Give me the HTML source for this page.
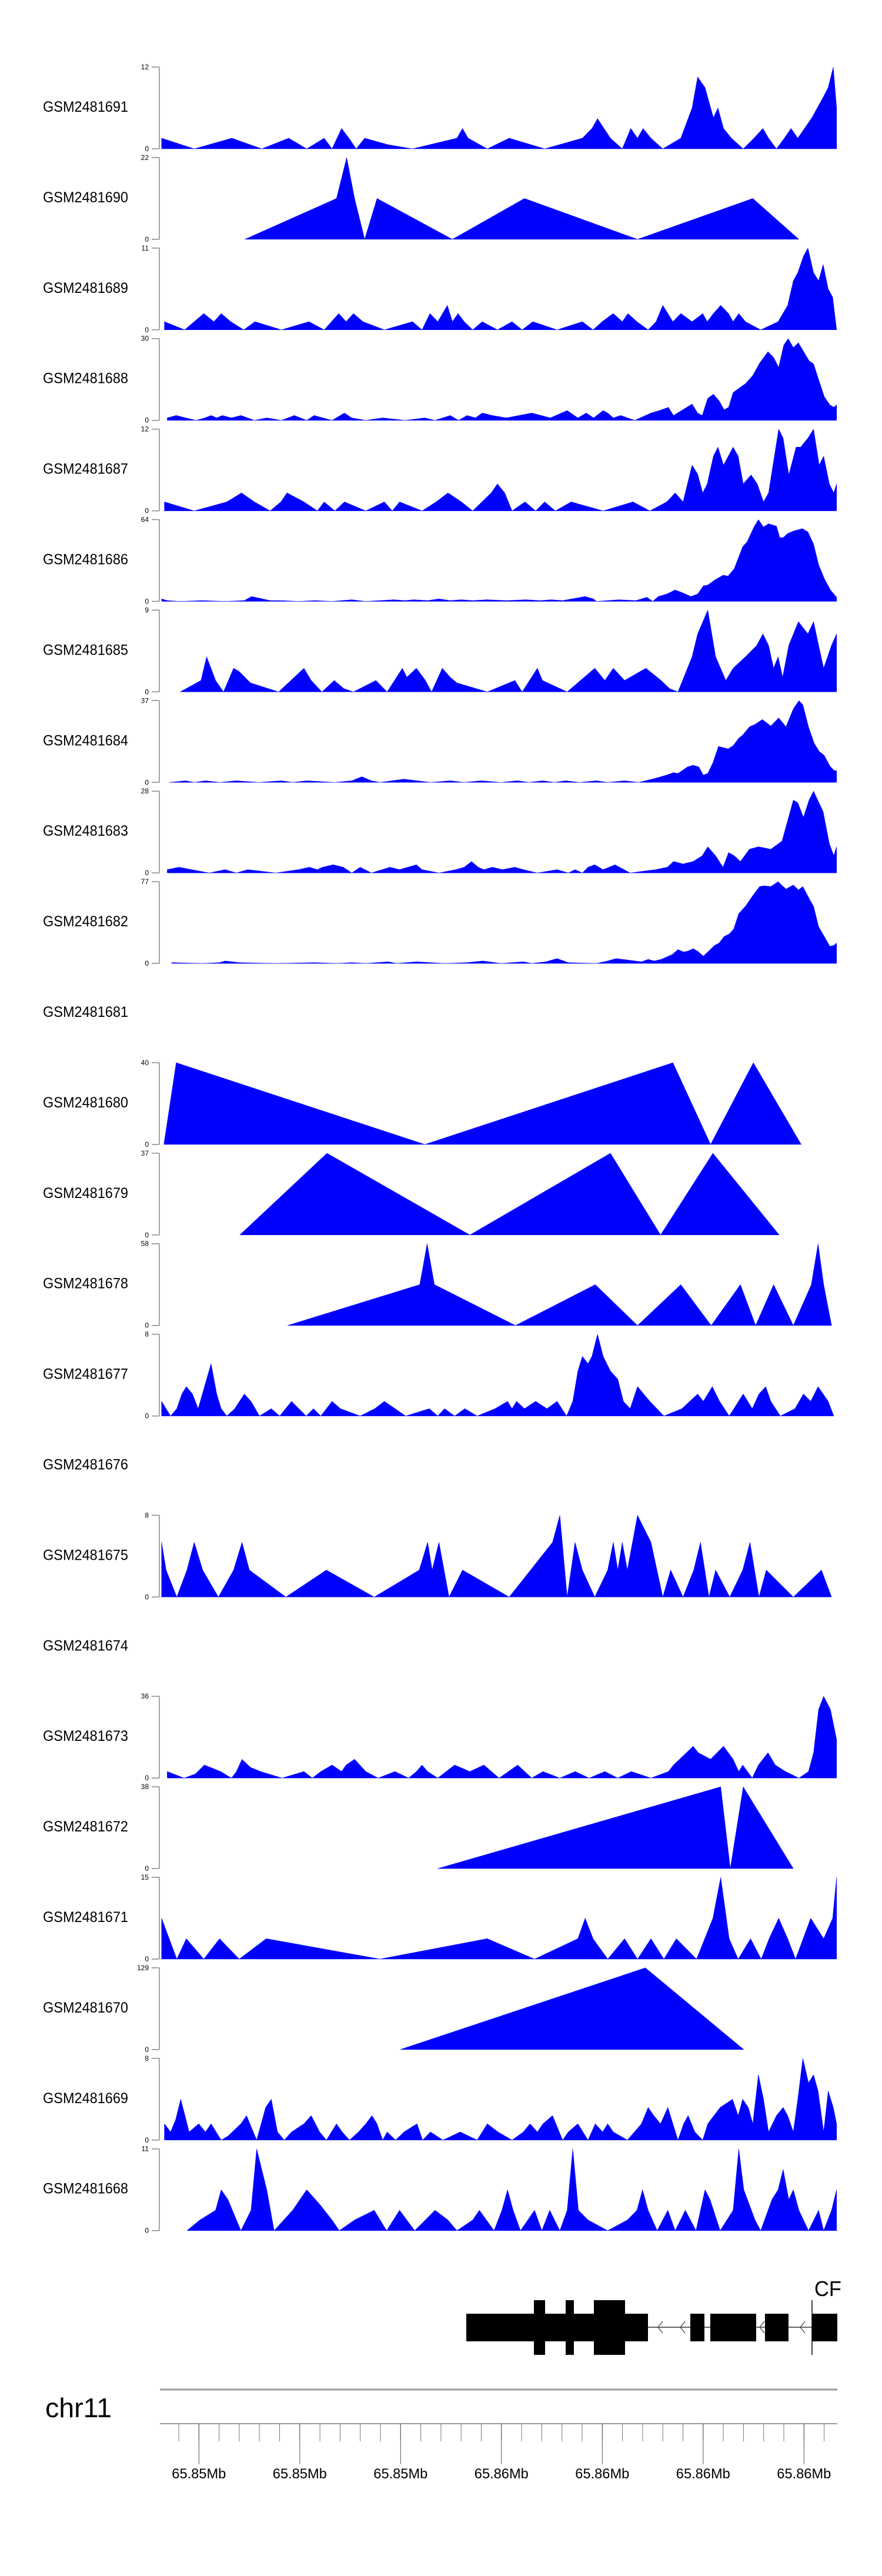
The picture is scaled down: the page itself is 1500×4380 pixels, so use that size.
<!DOCTYPE html>
<html><head><meta charset="utf-8"><title>Coverage tracks</title>
<style>html,body{margin:0;padding:0;background:#fff}svg{display:block}text{font-family:"Liberation Sans",Arial,sans-serif}</style>
</head><body>
<svg id="chart" xmlns="http://www.w3.org/2000/svg" width="1500" height="4380" viewBox="0 0 1500 4380">
<rect width="1500" height="4380" fill="#fff"/>
<g id="tracks"></g>
<g id="gene">
  <text x="1385" y="3904" font-size="36" textLength="46" lengthAdjust="spacingAndGlyphs">CF</text>
  <line x1="1102" y1="3957" x2="1424" y2="3957" stroke="#333" stroke-width="1.5"/>
  <rect x="793" y="3934" width="309" height="47" fill="#000"/>
  <rect x="908" y="3911" width="19" height="93" fill="#000"/>
  <rect x="962" y="3911" width="14" height="93" fill="#000"/>
  <rect x="1010" y="3911" width="53" height="93" fill="#000"/>
  <rect x="1174" y="3934" width="24" height="47" fill="#000"/>
  <rect x="1208" y="3934" width="78" height="47" fill="#000"/>
  <rect x="1301" y="3934" width="40" height="47" fill="#000"/>
  <rect x="1381" y="3934" width="43" height="47" fill="#000"/>
  <line x1="1381" y1="3911" x2="1381" y2="4004" stroke="#000" stroke-width="1.5"/>
  <path d="M1127 3947 L1119 3957 L1127 3967 M1165 3947 L1157 3957 L1165 3967 M1300 3947 L1292 3957 L1300 3967 M1369 3947 L1361 3957 L1369 3967" stroke="#444" stroke-width="1.3" fill="none"/>
</g>
<g id="axis">
  <text x="77" y="4110" font-size="46" textLength="113" lengthAdjust="spacingAndGlyphs">chr11</text>
  <line x1="272" y1="4063" x2="1424" y2="4063" stroke="#999" stroke-width="3"/>
  <line x1="272" y1="4121" x2="1424" y2="4121" stroke="#999" stroke-width="2"/>
</g>
</svg>
<script>
const NS = "http://www.w3.org/2000/svg";
const sampleNames = ["GSM2481691","GSM2481690","GSM2481689","GSM2481688","GSM2481687","GSM2481686","GSM2481685","GSM2481684","GSM2481683","GSM2481682","GSM2481681","GSM2481680","GSM2481679","GSM2481678","GSM2481677","GSM2481676","GSM2481675","GSM2481674","GSM2481673","GSM2481672","GSM2481671","GSM2481670","GSM2481669","GSM2481668"];
const yMax = [12,22,11,30,12,64,9,37,28,77,null,40,37,58,8,null,8,null,36,38,15,129,8,11];
const c1691 = [[287,13],[345,0],[412,13],[465,0],[513,13],[545,0],[576,13],[590,0],[607,25],[620,13],[633,0],[648,13],[690,5],[733,0],[812,13],[822,25],[832,13],[866,0],[905,13],[968,0],[1035,13],[1052,25],[1062,37],[1085,13],[1106,0],[1121,25],[1133,13],[1143,25],[1157,13],[1178,0],[1210,13],[1230,50],[1240,88],[1253,75],[1268,38],[1276,50],[1286,25],[1300,13],[1321,0],[1340,13],[1356,25],[1366,13],[1380,0],[1394,13],[1406,25],[1418,13],[1443,38],[1463,63],[1472,75],[1481,100],[1487,50]];
const c1690 = [[435,0],[598,50],[616,100],[630,50],[648,0],[670,50],[804,0],[932,50],[1133,0],[1338,50],[1420,0]];
const c1689 = [[292,10],[328,0],[362,20],[380,10],[393,20],[410,10],[433,0],[453,10],[500,0],[549,10],[576,0],[602,20],[615,10],[628,20],[645,10],[683,0],[733,10],[750,0],[764,20],[778,10],[795,30],[804,10],[814,20],[825,10],[840,0],[857,10],[884,0],[910,10],[928,0],[947,10],[990,0],[1035,10],[1054,0],[1070,10],[1090,20],[1106,10],[1116,20],[1132,10],[1152,0],[1166,10],[1178,30],[1196,10],[1210,20],[1230,10],[1249,20],[1257,10],[1268,20],[1281,30],[1295,20],[1303,10],[1313,20],[1325,10],[1352,0],[1383,10],[1400,30],[1410,60],[1418,70],[1428,90],[1436,100],[1446,70],[1455,60],[1463,80],[1472,50],[1480,40],[1487,0]];
const c1688 = [[297,3],[313,6],[330,3],[348,0],[364,3],[375,6],[385,3],[395,6],[411,3],[428,6],[440,3],[452,0],[474,3],[500,0],[523,6],[545,0],[558,6],[590,0],[612,9],[625,3],[650,0],[680,3],[720,0],[755,3],[773,0],[800,6],[815,0],[830,6],[845,3],[857,9],[875,6],[900,3],[945,9],[978,3],[1008,12],[1027,3],[1042,9],[1055,3],[1072,12],[1080,9],[1090,3],[1103,6],[1128,0],[1157,9],[1172,12],[1188,16],[1197,6],[1230,20],[1240,9],[1248,6],[1258,27],[1268,32],[1278,24],[1287,13],[1295,16],[1303,34],[1315,40],[1325,45],[1338,55],[1350,70],[1365,84],[1375,77],[1384,65],[1393,92],[1401,100],[1410,89],[1419,95],[1438,73],[1446,69],[1465,29],[1475,19],[1482,16],[1487,19]];
const c1687 = [[292,11],[345,0],[403,11],[429,22],[452,11],[480,0],[499,11],[510,22],[540,11],[564,0],[576,11],[595,0],[612,11],[650,0],[683,11],[697,0],[710,11],[750,0],[775,11],[796,22],[820,11],[840,0],[873,22],[884,33],[897,22],[910,0],[933,11],[952,0],[968,11],[987,0],[1015,11],[1072,0],[1125,11],[1155,0],[1185,11],[1200,22],[1214,11],[1230,56],[1240,45],[1249,22],[1257,33],[1268,67],[1276,78],[1286,56],[1303,78],[1312,67],[1321,33],[1335,44],[1346,33],[1357,11],[1366,22],[1384,100],[1392,89],[1402,44],[1415,78],[1423,78],[1436,89],[1446,100],[1456,56],[1464,67],[1474,33],[1482,22],[1487,33]];
const c1686 = [[287,3],[297,1],[320,0],[360,1],[400,0],[434,1],[447,6],[460,4],[480,1],[500,1],[530,0],[560,1],[590,0],[625,2],[650,0],[700,2],[720,1],[735,2],[760,1],[780,3],[800,1],[820,2],[840,1],[865,2],[900,1],[935,2],[960,1],[980,2],[1000,1],[1040,6],[1055,3],[1060,0],[1100,2],[1130,1],[1150,5],[1160,0],[1170,6],[1185,9],[1200,14],[1215,10],[1228,6],[1240,9],[1250,19],[1258,20],[1270,26],[1285,32],[1294,31],[1305,40],[1320,67],[1328,73],[1340,91],[1348,100],[1357,91],[1366,95],[1380,92],[1386,78],[1392,78],[1400,83],[1410,86],[1426,89],[1436,85],[1446,70],[1455,45],[1465,28],[1476,14],[1487,5]];
const c1685 = [[320,0],[357,14],[367,43],[383,14],[397,0],[415,29],[425,25],[445,11],[495,0],[540,29],[553,14],[572,0],[594,14],[611,4],[628,0],[668,14],[688,0],[715,29],[723,18],[740,29],[756,14],[767,0],[786,29],[800,18],[812,11],[866,0],[915,14],[928,0],[955,29],[964,14],[1008,0],[1057,29],[1075,14],[1090,29],[1110,14],[1148,29],[1175,14],[1190,4],[1205,0],[1230,43],[1240,71],[1258,100],[1272,43],[1290,14],[1303,29],[1325,43],[1345,57],[1356,71],[1366,57],[1375,29],[1383,43],[1391,18],[1402,57],[1419,86],[1436,71],[1446,86],[1455,57],[1464,29],[1478,57],[1487,71]];
const c1684 = [[300,0],[330,2],[345,0],[365,2],[390,0],[420,2],[460,0],[500,2],[520,0],[545,2],[595,0],[625,2],[643,7],[660,2],[675,0],[718,4],[765,0],[800,2],[825,0],[855,2],[890,0],[920,2],[940,0],[965,2],[985,0],[1005,2],[1030,0],[1060,2],[1080,0],[1110,2],[1135,0],[1165,5],[1185,9],[1197,12],[1205,11],[1222,19],[1232,21],[1242,19],[1250,9],[1258,11],[1267,24],[1277,44],[1294,41],[1303,45],[1313,54],[1320,58],[1332,68],[1342,71],[1355,77],[1370,69],[1384,79],[1397,68],[1410,90],[1420,100],[1427,95],[1437,68],[1447,48],[1456,38],[1465,33],[1475,20],[1482,15],[1487,14]];
const c1683 = [[297,4],[318,7],[340,4],[372,0],[400,4],[420,0],[440,4],[490,0],[530,4],[550,7],[564,4],[573,7],[592,10],[610,7],[625,0],[640,7],[660,0],[693,7],[710,4],[740,10],[750,4],[780,0],[810,4],[825,7],[838,14],[850,7],[860,4],[875,7],[893,4],[915,7],[930,4],[955,0],[990,4],[1010,0],[1022,4],[1035,0],[1045,7],[1057,10],[1072,4],[1093,10],[1120,0],[1165,4],[1186,7],[1197,14],[1214,11],[1232,14],[1248,21],[1258,32],[1272,21],[1285,7],[1295,25],[1305,21],[1316,14],[1332,29],[1348,32],[1370,29],[1390,39],[1400,64],[1410,89],[1418,86],[1428,68],[1438,89],[1446,100],[1463,75],[1474,36],[1482,21],[1487,32]];
const c1682 = [[305,1],[360,0],[390,1],[400,3],[425,1],[490,0],[560,1],[600,0],[625,1],[650,0],[690,2],[705,0],[740,2],[790,0],[830,1],[858,3],[890,0],[930,2],[945,0],[970,2],[990,6],[1010,1],[1060,0],[1080,3],[1095,6],[1140,2],[1152,5],[1163,3],[1175,5],[1195,11],[1205,17],[1215,14],[1222,15],[1232,18],[1240,15],[1250,9],[1258,14],[1270,22],[1278,25],[1287,33],[1296,36],[1304,42],[1313,61],[1325,70],[1338,83],[1350,94],[1358,95],[1370,94],[1383,100],[1397,91],[1410,96],[1419,90],[1427,94],[1440,77],[1446,70],[1455,45],[1465,33],[1475,21],[1482,22],[1487,25]];
const c1680 = [[291,0],[313,100],[755,0],[1196,100],[1263,0],[1339,100],[1424,0]];
const c1679 = [[426,0],[581,100],[835,0],[1085,100],[1174,0],[1267,100],[1385,0]];
const c1678 = [[511,0],[746,50],[759,100],[772,50],[916,0],[1058,50],[1133,0],[1210,50],[1264,0],[1316,50],[1343,0],[1375,50],[1410,0],[1442,50],[1454,100],[1464,50],[1478,0]];
const c1677 = [[287,18],[303,0],[314,9],[323,27],[331,36],[342,27],[352,9],[367,45],[375,64],[385,27],[393,9],[403,0],[417,9],[434,27],[446,18],[461,0],[482,9],[497,0],[518,18],[544,0],[557,9],[570,0],[590,18],[605,9],[640,0],[666,9],[683,18],[721,0],[763,9],[778,0],[790,9],[808,0],[826,9],[848,0],[880,9],[902,18],[910,9],[918,18],[932,9],[952,18],[972,9],[990,18],[1007,0],[1018,18],[1027,55],[1035,73],[1045,64],[1052,73],[1062,100],[1072,73],[1085,55],[1098,45],[1108,18],[1120,9],[1133,36],[1155,18],[1180,0],[1212,9],[1240,27],[1250,18],[1266,36],[1279,18],[1296,0],[1321,27],[1337,9],[1349,27],[1361,36],[1370,18],[1387,0],[1413,9],[1428,27],[1441,18],[1454,36],[1472,18],[1482,0]];
const c1675 = [[287,67],[295,33],[314,0],[332,33],[345,67],[360,33],[388,0],[415,33],[430,67],[443,33],[508,0],[580,33],[665,0],[745,33],[760,67],[768,33],[780,67],[798,0],[822,33],[905,0],[982,67],[995,100],[1008,0],[1022,67],[1035,33],[1057,0],[1080,33],[1090,67],[1098,33],[1106,67],[1115,33],[1133,100],[1157,67],[1178,0],[1192,33],[1214,0],[1233,33],[1245,67],[1260,0],[1272,33],[1297,0],[1320,33],[1333,67],[1349,0],[1362,33],[1410,0],[1460,33],[1478,0]];
const c1673 = [[297,8],[327,0],[347,5],[363,16],[392,8],[411,0],[420,8],[430,23],[445,13],[463,8],[501,0],[540,8],[555,0],[570,8],[590,16],[607,8],[615,16],[630,23],[650,8],[672,0],[702,8],[726,0],[740,8],[750,16],[760,8],[778,0],[808,16],[835,8],[860,16],[887,0],[920,16],[945,0],[965,8],[995,0],[1022,8],[1047,0],[1075,8],[1098,0],[1122,8],[1157,0],[1188,8],[1197,16],[1220,31],[1232,39],[1241,31],[1263,23],[1286,39],[1303,23],[1313,8],[1320,16],[1337,0],[1348,16],[1365,31],[1378,16],[1396,8],[1420,0],[1437,8],[1446,31],[1455,84],[1464,100],[1476,84],[1487,47]];
const c1672 = [[778,0],[1281,100],[1298,0],[1321,100],[1410,0]];
const c1671 = [[287,50],[314,0],[331,25],[362,0],[390,25],[425,0],[473,25],[675,0],[866,25],[950,0],[1027,25],[1040,50],[1054,25],[1080,0],[1110,25],[1133,0],[1157,25],[1180,0],[1202,25],[1238,0],[1267,50],[1281,100],[1296,25],[1312,0],[1334,25],[1353,0],[1367,25],[1384,50],[1400,25],[1414,0],[1441,50],[1464,25],[1480,50],[1487,100]];
const c1670 = [[711,0],[1147,100],[1322,0]];
const c1669 = [[292,20],[303,10],[312,25],[321,50],[336,10],[353,20],[365,10],[375,20],[393,0],[405,5],[428,20],[438,30],[456,0],[472,40],[482,50],[493,10],[505,0],[518,10],[540,20],[553,30],[568,10],[580,0],[598,20],[608,10],[621,0],[637,10],[650,20],[661,30],[670,20],[680,0],[688,10],[703,0],[718,10],[741,20],[751,0],[765,10],[787,0],[818,10],[848,0],[866,20],[885,10],[910,0],[930,10],[942,20],[955,10],[965,20],[982,30],[1000,0],[1010,10],[1027,20],[1045,0],[1058,20],[1071,10],[1080,20],[1090,10],[1115,0],[1140,20],[1152,40],[1162,30],[1174,20],[1187,40],[1205,0],[1215,20],[1223,30],[1235,10],[1249,0],[1258,20],[1280,40],[1302,50],[1312,30],[1320,50],[1330,40],[1338,20],[1348,80],[1357,50],[1366,10],[1380,30],[1392,40],[1400,30],[1410,10],[1418,50],[1427,100],[1437,70],[1446,80],[1454,60],[1464,10],[1472,60],[1481,40],[1487,20]];
const c1668 = [[332,0],[355,13],[383,25],[393,50],[405,38],[428,0],[446,25],[456,100],[465,75],[474,50],[487,0],[520,25],[545,50],[567,33],[590,13],[603,0],[630,13],[665,25],[687,0],[710,25],[737,0],[773,25],[796,13],[812,0],[840,13],[852,25],[878,0],[892,25],[902,50],[912,25],[925,0],[950,25],[963,0],[977,25],[995,0],[1008,25],[1018,100],[1028,25],[1045,13],[1080,0],[1115,13],[1132,25],[1142,50],[1152,25],[1168,0],[1187,25],[1200,0],[1218,25],[1237,0],[1253,50],[1262,38],[1280,0],[1303,25],[1313,100],[1322,50],[1342,13],[1352,0],[1372,38],[1383,50],[1392,75],[1402,38],[1410,50],[1420,25],[1437,0],[1455,25],[1464,0],[1478,25],[1487,50]];
const seriesList = [c1691,c1690,c1689,c1688,c1687,c1686,c1685,c1684,c1683,c1682,null,c1680,c1679,c1678,c1677,null,c1675,null,c1673,c1672,c1671,c1670,c1669,c1668];
const majorTickLabels = ["65.85Mb","65.85Mb","65.85Mb","65.86Mb","65.86Mb","65.86Mb","65.86Mb"];
// genomic tick positions (index along the genome axis: major every 5 minor)
const majorTickIdx = [1,6,11,16,21,26,31];
const minorTickIdx = [0,1,2,3,4,5,6,7,8,9,10,11,12,13,14,15,16,17,18,19,20,21,22,23,24,25,26,27,28,29,30,31,32];

function xScale(p){ return 271 + (p - 283) / 1.0453; }
function tickX(k){ return 304 + 34.3 * k; }
function trackTop(i){ return 114 + 153.9 * i; }
const TH = 139;
function yScale(i, pct){ return trackTop(i) + TH - pct / 100 * TH; }

const tracks = document.getElementById('tracks');
function mk(tag, attrs, parent){ const e = document.createElementNS(NS, tag); for (const k in attrs) e.setAttribute(k, attrs[k]); parent.appendChild(e); return e; }

sampleNames.forEach((name, i) => {
  const g = mk('g', {}, tracks);
  
  
  const top = trackTop(i), base = top + TH;
  const lbl = mk('text', {x: 73, y: (top + 76).toFixed(1), 'font-size': 25, textLength: 145, lengthAdjust: 'spacingAndGlyphs'}, g);
  lbl.textContent = name;
  
  
  const s = seriesList[i];
  if (!s) return;
  const ax = mk('path', {d: `M271 ${top} V${base} M258 ${top} H271 M258 ${base} H271`, stroke: '#888', 'stroke-width': 1.5, fill: 'none'}, g);
  
  
  const t1 = mk('text', {x: 253, y: (top + 4).toFixed(1), 'font-size': 12, 'text-anchor': 'end'}, g);
  t1.textContent = String(yMax[i]);
  
  
  const t0 = mk('text', {x: 253, y: (base + 4).toFixed(1), 'font-size': 12, 'text-anchor': 'end'}, g);
  t0.textContent = '0';
  
  
  let d = `M${xScale(s[0][0]).toFixed(1)} ${base}`;
  s.forEach(pt => { d += ` L${xScale(pt[0]).toFixed(1)} ${yScale(i, pt[1]).toFixed(1)}`; });
  d += ` L${xScale(s[s.length-1][0]).toFixed(1)} ${base} Z`;
  const area = mk('path', {d: d, fill: '#0000ff', stroke: '#0000ff', 'stroke-width': 0.5}, g);
  
  
});

const axis = document.getElementById('axis');
minorTickIdx.forEach(k => {
  const x = tickX(k);
  const l = mk('line', {x1: x, y1: 4121, x2: x, y2: 4151, stroke: '#777', 'stroke-width': 1}, axis);
  
  
});
majorTickIdx.forEach((k, j) => {
  const x = tickX(k);
  const l = mk('line', {x1: x, y1: 4121, x2: x, y2: 4190, stroke: '#555', 'stroke-width': 1}, axis);
  
  
  const t = mk('text', {x: x, y: 4214, 'font-size': 24, 'text-anchor': 'middle', textLength: 92, lengthAdjust: 'spacingAndGlyphs'}, axis);
  t.textContent = majorTickLabels[j];
  
  
});
</script>
</body></html>
